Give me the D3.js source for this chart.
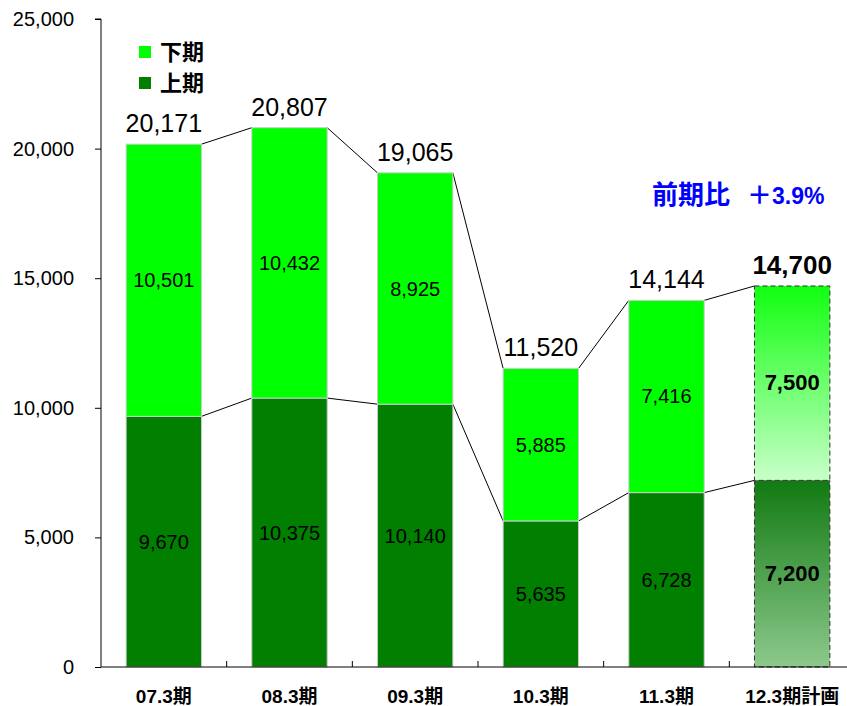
<!DOCTYPE html>
<html>
<head>
<meta charset="utf-8">
<script src="https://cdn.jsdelivr.net/npm/d3@7"></script>
<style>
  body { margin: 0; background: #fff; }
  text { font-family: "Liberation Sans", "Noto Sans CJK JP", sans-serif; }
</style>
</head>
<body>
<svg id="chart" width="847" height="706"></svg>
<script>
// data
var periods = ["07.3期", "08.3期", "09.3期", "10.3期", "11.3期", "12.3期計画"];
var firstHalf = [9670, 10375, 10140, 5635, 6728, 7200];   // 上期
var secondHalf = [10501, 10432, 8925, 5885, 7416, 7500];  // 下期
var yTicks = [0, 5000, 10000, 15000, 20000, 25000];
var planIndex = 5;

var svg = d3.select("#chart");
var fmt = d3.format(",");

var x = d3.scaleBand().domain(periods).range([101, 855]).paddingInner(0.4).paddingOuter(0.2);
var y = d3.scaleLinear().domain([0, 25000]).range([667, 19]);

var data = periods.map((p, i) => ({
    period: p, lo: firstHalf[i], hi: secondHalf[i], total: firstHalf[i] + secondHalf[i], plan: i === planIndex
}));

// gradients for plan bar
var defs = svg.append("defs");
var g1 = defs.append("linearGradient").attr("id", "gradHi").attr("x1", 0).attr("y1", 0).attr("x2", 0).attr("y2", 1);
g1.append("stop").attr("offset", "0%").attr("stop-color", "#11ff11");
g1.append("stop").attr("offset", "100%").attr("stop-color", "#c9ffc9");
var g2 = defs.append("linearGradient").attr("id", "gradLo").attr("x1", 0).attr("y1", 0).attr("x2", 0).attr("y2", 1);
g2.append("stop").attr("offset", "0%").attr("stop-color", "#117a11");
g2.append("stop").attr("offset", "100%").attr("stop-color", "#8dc98d");

// connector lines
var bw = x.bandwidth();
for (var i = 0; i < data.length - 1; i++) {
    var a = data[i], b = data[i + 1];
    ["lo", "total"].forEach(function(k) {
        svg.append("line")
            .attr("x1", x(a.period) + bw).attr("y1", y(a[k]))
            .attr("x2", x(b.period)).attr("y2", y(b[k]))
            .attr("stroke", "#000").attr("stroke-width", 1);
    });
}

// bars
var bars = svg.selectAll("g.bar").data(data).enter().append("g").attr("class", "bar");
bars.append("rect")
    .attr("x", d => x(d.period)).attr("width", bw)
    .attr("y", d => y(d.lo)).attr("height", d => y(0) - y(d.lo))
    .attr("fill", d => d.plan ? "url(#gradLo)" : "#007f00")
    .attr("stroke", d => d.plan ? "#333" : "#ccc")
    .attr("stroke-width", 1)
    .attr("stroke-dasharray", d => d.plan ? "5,3" : null);
bars.append("rect")
    .attr("x", d => x(d.period)).attr("width", bw)
    .attr("y", d => y(d.total)).attr("height", d => y(d.lo) - y(d.total))
    .attr("fill", d => d.plan ? "url(#gradHi)" : "#00ff00")
    .attr("stroke", d => d.plan ? "#333" : "#ccc")
    .attr("stroke-width", 1)
    .attr("stroke-dasharray", d => d.plan ? "5,3" : null);

// value labels
bars.append("text")
    .attr("x", d => x(d.period) + bw / 2)
    .attr("y", d => (y(0) + y(d.lo)) / 2 + 7)
    .attr("text-anchor", "middle")
    .attr("font-size", d => d.plan ? 22 : 20)
    .attr("font-weight", d => d.plan ? "bold" : "normal")
    .text(d => fmt(d.lo));
bars.append("text")
    .attr("x", d => x(d.period) + bw / 2)
    .attr("y", d => (y(d.lo) + y(d.total)) / 2 + 7)
    .attr("text-anchor", "middle")
    .attr("font-size", d => d.plan ? 22 : 20)
    .attr("font-weight", d => d.plan ? "bold" : "normal")
    .text(d => fmt(d.hi));
bars.append("text")
    .attr("x", d => x(d.period) + bw / 2)
    .attr("y", d => y(d.total) - 12)
    .attr("text-anchor", "middle")
    .attr("font-size", d => d.plan ? 26 : 25)
    .attr("font-weight", d => d.plan ? "bold" : "normal")
    .text(d => fmt(d.total));

// y axis
var yAxis = svg.append("g").attr("transform", "translate(101,0)")
    .call(d3.axisLeft(y).tickValues(yTicks).tickFormat(fmt).tickSize(6).tickPadding(21));
yAxis.select(".domain").attr("d", "M-6," + y(25000) + "H0V" + y(0));
yAxis.selectAll("text").attr("font-size", 20).attr("fill", "#000")
    .attr("font-family", "\"Liberation Sans\", sans-serif");

// x axis
var xAxis = svg.append("g").attr("transform", "translate(0," + y(0) + ")");
xAxis.append("line").attr("x1", 101).attr("x2", 847).attr("y1", 0).attr("y2", 0).attr("stroke", "#000");
var step = x.step();
d3.range(1, periods.length).forEach(function(i) {
    var xt = x(periods[i]) - (step - bw) / 2;
    xAxis.append("line").attr("x1", xt).attr("x2", xt).attr("y1", 0).attr("y2", -6).attr("stroke", "#000");
});
xAxis.selectAll("text.cat").data(periods).enter().append("text")
    .attr("class", "cat")
    .attr("x", d => x(d) + bw / 2).attr("y", 36)
    .attr("text-anchor", "middle").attr("font-size", 19).attr("font-weight", "bold")
    .text(d => d);

// legend
var legend = [["下期", "#00ff00"], ["上期", "#007f00"]];
var lg = svg.selectAll("g.legend").data(legend).enter().append("g").attr("class", "legend")
    .attr("transform", (d, i) => "translate(139," + (46 + i * 31) + ")");
lg.append("rect").attr("width", 12).attr("height", 12).attr("fill", d => d[1]);
lg.append("text").attr("x", 21).attr("y", 14).attr("font-size", 22).attr("font-weight", "bold").text(d => d[0]);

// annotation
var note = svg.append("text").attr("y", 204)
    .attr("font-weight", "bold").attr("fill", "#0000ff");
note.append("tspan").attr("x", 652).attr("font-size", 26).text("前期比");
note.append("tspan").attr("x", 747).attr("font-size", 25).text("＋");
note.append("tspan").attr("x", 772).attr("font-size", 23).text("3.9%");
</script>
</body>
</html>
